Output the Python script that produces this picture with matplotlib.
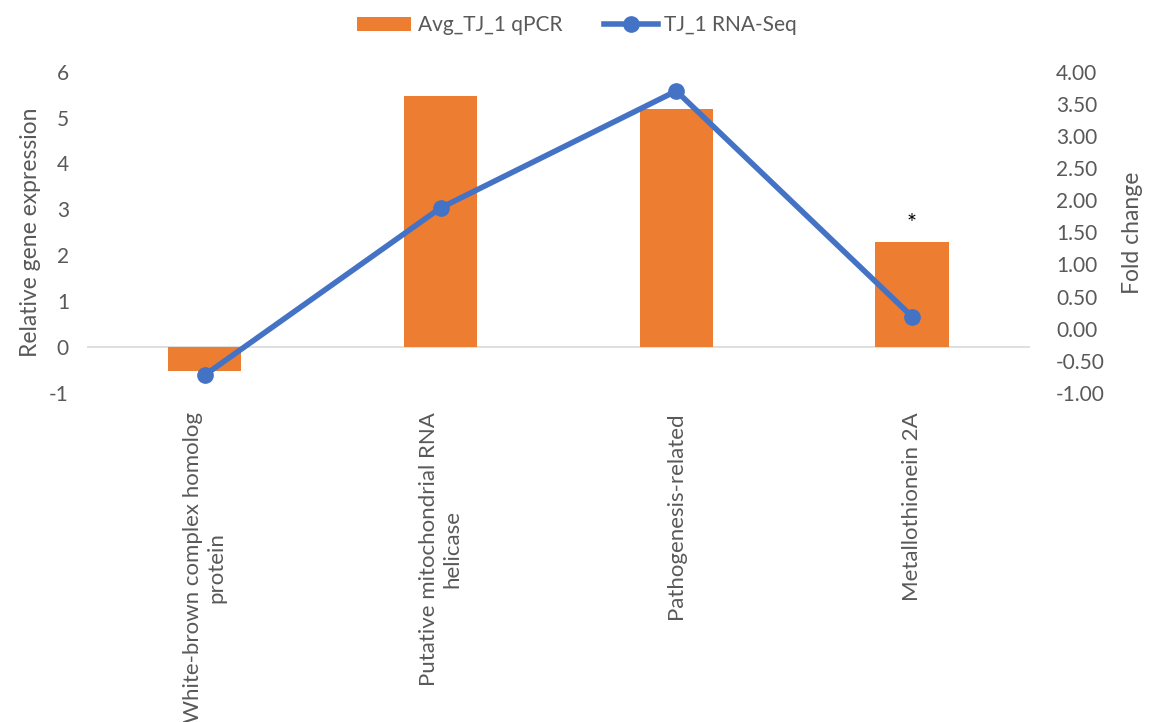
import numpy as np
import matplotlib
matplotlib.use('Agg')
import matplotlib.pyplot as plt

# 데이터
genes = ['White-brown complex homolog\nprotein', 'Putative mitochondrial RNA\nhelicase',
         'Pathogenesis-related', 'Metallothionein 2A']
qpcr = [-0.52, 5.47, 5.18, 2.28]
rnaseq = [-0.72, 1.88, 3.70, 0.19]
marks = ['', '', '', '*']

orange = '#ED7D31'
blue = '#4472C4'
grey = '#595959'

plt.rcParams['font.family'] = ['Lato', 'DejaVu Sans']
plt.rcParams['axes.unicode_minus'] = False

fig = plt.figure(figsize=(11.54, 7.22), dpi=100)
ax = fig.add_axes([0.0754, 0.4557, 0.817, 0.445])
x = np.arange(len(genes))

bars = ax.bar(x, qpcr, width=0.31, color=orange, label='Avg_TJ_1 qPCR', zorder=2)
ax.set_xlim(-0.5, len(genes) - 0.5)
ax.set_ylim(-1, 6)
ax.axhline(0, color='#D9D9D9', lw=1.2, zorder=1)
for xi, v, m in zip(x, qpcr, marks):
    if m:
        ax.text(xi, v + 0.18, m, ha='center', va='bottom', fontsize=17, color='black')

ax.set_ylabel('Relative gene expression', fontsize=16.5, color=grey, labelpad=6)
ax.set_xticks(x)
ax.set_xticklabels(genes, rotation=90, ha='center', va='top', multialignment='center',
                   fontsize=16, color=grey)
ax.tick_params(axis='y', labelsize=15, labelcolor=grey, length=0, pad=13)
ax.tick_params(axis='x', length=0, pad=14)
for s in ax.spines.values():
    s.set_visible(False)

ax2 = ax.twinx()
ax2.plot(x, rnaseq, color=blue, lw=4, marker='o', markersize=11, label='TJ_1 RNA-Seq', zorder=3)
ax2.set_ylim(-1, 4)
ax2.set_yticks(np.arange(-1, 4.01, 0.5))
ax2.set_yticklabels(['%.2f' % t for t in np.arange(-1, 4.01, 0.5)])
ax2.tick_params(axis='y', labelsize=15, labelcolor=grey, length=0, pad=19)
ax2.set_ylabel('Fold change', fontsize=16.5, color=grey, labelpad=12)
for s in ax2.spines.values():
    s.set_visible(False)

h1, l1 = ax.get_legend_handles_labels()
h2, l2 = ax2.get_legend_handles_labels()
fig.legend(h1 + h2, l1 + l2, loc='upper center', bbox_to_anchor=(0.5, 1.005), ncol=2,
           frameon=False, fontsize=15, labelcolor=grey, handlelength=2.6, columnspacing=2.0,
           handletextpad=0.3)

fig.savefig('out.png', dpi=100)
